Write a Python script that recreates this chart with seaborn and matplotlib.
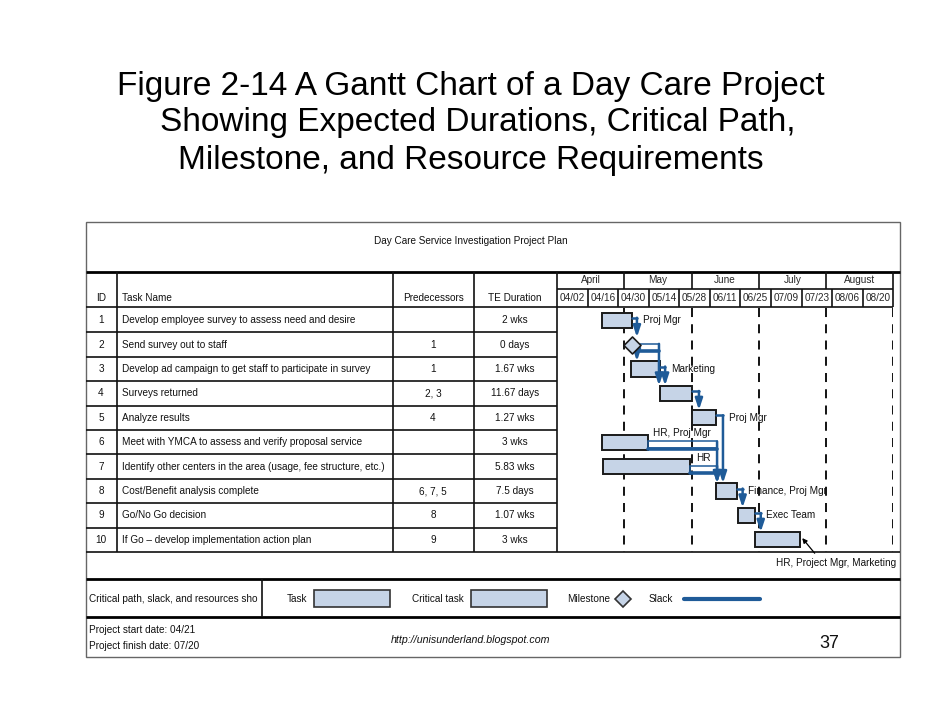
import matplotlib
matplotlib.use("Agg")
import matplotlib.pyplot as plt
import matplotlib.transforms as mtransforms
from matplotlib import font_manager
from matplotlib.patches import Rectangle
import seaborn as sns
import pandas as pd

# ---------------- data ----------------
task_ids = [1, 2, 3, 4, 5, 6, 7, 8, 9, 10]
task_names = [
    "Develop employee survey to assess need and desire",
    "Send survey out to staff",
    "Develop ad campaign to get staff to participate in survey",
    "Surveys returned",
    "Analyze results",
    "Meet with YMCA to assess and verify proposal service",
    "Identify other centers in the area (usage, fee structure, etc.)",
    "Cost/Benefit analysis complete",
    "Go/No Go decision",
    "If Go \u2013 develop implementation action plan",
]
predecessors = ["", "1", "1", "2, 3", "4", "", "", "6, 7, 5", "8", "9"]
te_durations = ["2 wks", "0 days", "1.67 wks", "11.67 days", "1.27 wks",
                "3 wks", "5.83 wks", "7.5 days", "1.07 wks", "3 wks"]
# bar start / length in days after 04/02
bar_start = [20.5, 34.5, 34.0, 47.0, 62.0, 20.5, 21.0, 73.0, 82.7, 90.5]
bar_days = [14.0, 0.0, 13.0, 15.0, 11.0, 21.0, 40.0, 9.5, 8.0, 21.0]
milestone_ids = [2]
months = ["April", "May", "June", "July", "August"]
col_dates = ["04/02", "04/16", "04/30", "05/14", "05/28", "06/11",
             "06/25", "07/09", "07/23", "08/06", "08/20"]
# (from task, to task, day where the link turns down)
links = [(1, 2, 36.6), (2, 3, 36.6), (3, 4, 49.5), (4, 5, 65.0),
         (5, 8, 76.0), (8, 9, 85.0), (9, 10, 93.3)]
# (task with slack, day where slack ends, successor)
slacks = [(2, 46.7, 4), (6, 73.3, 8), (7, 73.3, 8)]
resources = {1: "Proj Mgr", 3: "Marketing", 5: "Proj Mgr", 6: "HR, Proj Mgr",
             7: "HR", 8: "Finance, Proj Mgr", 9: "Exec Team"}
last_resource = "HR, Project Mgr, Marketing"
total_days = 154

df = pd.DataFrame({"id": task_ids, "start": bar_start, "days": bar_days})
df["end"] = df["start"] + df["days"]

# ---------------- style ----------------
sns.set_style("white")
names = {f.name for f in font_manager.fontManager.ttflist}
COND = "Liberation Sans Narrow" if "Liberation Sans Narrow" in names else "Liberation Sans"
TS = 8.7 if COND == "Liberation Sans Narrow" else 7.2
plt.rcParams["font.family"] = ["Liberation Sans", "DejaVu Sans"]

BAR = "#c6d4e7"
BLUE = "#1f5b98"
INK = "#111111"

fig = plt.figure(figsize=(9.42, 7.28), dpi=100)
bg = fig.add_axes([0, 0, 1, 1])
bg.set_xlim(0, 942)
bg.set_ylim(728, 0)
bg.axis("off")

# slide title
bg.text(471, 87, "Figure 2-14 A Gantt Chart of a Day Care Project",
        ha="center", va="center", fontsize=24, color="black")
bg.text(478, 123, "Showing Expected Durations, Critical Path,",
        ha="center", va="center", fontsize=24, color="black")
bg.text(471, 160, "Milestone, and Resource Requirements",
        ha="center", va="center", fontsize=24, color="black")

# gantt axes (rows region)
ax = fig.add_axes([557 / 942, (728 - 552) / 728, 336.3 / 942, 244 / 728])
ax.set_xlim(0, total_days)
ax.set_ylim(10.5, 0.5)
ax.axis("off")

# table frame
bg.add_patch(Rectangle((86, 222), 814, 435, fill=False, ec="#666666", lw=1))
bg.hlines(272, 86, 900, color="black", lw=2)
bg.hlines(307, 86, 893, color=INK, lw=1.2)
bg.hlines(552, 86, 900, color=INK, lw=1.2)
bg.hlines(579, 86, 900, color="black", lw=2)
bg.hlines(617, 86, 900, color="black", lw=2)
bg.vlines([117, 393, 474, 557], 272, 552, color=INK, lw=1.2)
bg.vlines(893, 272, 307, color=INK, lw=1.2)
bg.vlines(262, 579, 617, color=INK, lw=1.2)

# row lines and row texts positioned with the gantt y scale
rowtr = mtransforms.blended_transform_factory(bg.transData, ax.transData)
bg.hlines([i + 0.5 for i in task_ids[:-1]], 86, 557, color=INK, lw=1.2, transform=rowtr)
for i, name, pred, dur in zip(task_ids, task_names, predecessors, te_durations):
    kw = dict(va="center", fontsize=TS, family=COND, color=INK, transform=rowtr)
    bg.text(101, i, str(i), ha="center", **kw)
    bg.text(122, i, name, ha="left", **kw)
    bg.text(433, i, pred, ha="center", **kw)
    bg.text(515, i, dur, ha="center", **kw)

hkw = dict(va="center", fontsize=TS, family=COND, color=INK)
bg.text(471, 241, "Day Care Service Investigation Project Plan", ha="center", **hkw)
bg.text(101, 298, "ID", ha="center", **hkw)
bg.text(122, 298, "Task Name", ha="left", **hkw)
bg.text(433, 298, "Predecessors", ha="center", **hkw)
bg.text(515, 298, "TE Duration", ha="center", **hkw)

# timescale header
xtr = ax.get_xaxis_transform()
m_w = total_days / len(months)
c_w = total_days / len(col_dates)
ax.hlines(1.078, 0, total_days, color=INK, lw=1.2, transform=xtr, clip_on=False)
ax.vlines([m_w * k for k in range(1, len(months))], 1.078, 1.148, color=INK, lw=1.2,
          transform=xtr, clip_on=False)
ax.vlines([c_w * k for k in range(1, len(col_dates))], 1.004, 1.078, color=INK, lw=1.2,
          transform=xtr, clip_on=False)
for k, m in enumerate(months):
    ax.text(m_w * (k + 0.5), 1.113, m, ha="center", va="center", fontsize=TS,
            family=COND, transform=xtr, clip_on=False)
for k, d in enumerate(col_dates):
    ax.text(c_w * (k + 0.5), 1.041, d, ha="center", va="center", fontsize=TS,
            family=COND, transform=xtr, clip_on=False)

# month dashed lines
ax.vlines([m_w * k for k in range(1, len(months) + 1)], 0.5, 10.5, color="black",
          lw=1.3, linestyles=(0, (5, 4)), zorder=1)

# bars
tasks = df[~df["id"].isin(milestone_ids)]
ax.barh(tasks["id"], tasks["days"], left=tasks["start"], height=0.62,
        color=BAR, edgecolor="#1a1a1a", linewidth=1.4, zorder=3)
ms = df[df["id"].isin(milestone_ids)]
sns.scatterplot(x=ms["start"], y=ms["id"], marker="D", s=75, color=BAR,
                edgecolor="#1a1a1a", linewidth=1.2, ax=ax, zorder=6, legend=False)
ax.set_xlim(0, total_days)
ax.set_ylim(10.5, 0.5)
ax.axis("off")

end = dict(zip(df["id"], df["end"]))
aprops = dict(arrowstyle="-|>,head_length=0.6,head_width=0.2", color=BLUE,
              lw=1.8, mutation_scale=11, shrinkA=0, shrinkB=0)

# slack
for t, s_end, succ in slacks:
    ax.add_patch(Rectangle((end[t], t - 0.03), s_end - end[t], 0.28, fill=False,
                           ec=BLUE, lw=1.1, zorder=4))
    ax.plot([end[t], s_end], [t + 0.27, t + 0.27], color=BLUE, lw=2.6, zorder=4)
    ax.annotate("", xy=(s_end, succ - 0.32), xytext=(s_end, t - 0.03),
                arrowprops=aprops, zorder=4)

# links
label_x = {}
for a, b, turn in links:
    ya = a - 0.1 if a not in milestone_ids else a + 0.25
    if a not in milestone_ids:
        ax.plot([end[a], turn], [ya, ya], color=BLUE, lw=1.8, zorder=4)
    yb = b - 0.32 if b not in milestone_ids else b - 0.3
    ax.annotate("", xy=(turn, yb), xytext=(turn, ya), arrowprops=aprops, zorder=4)
    label_x[a] = turn

# resource labels
for t, txt in resources.items():
    x = max(end[t], label_x.get(t, 0)) + 2.6
    y = t if t not in [s[0] for s in slacks] else t - 0.36
    ax.text(x, y, txt, ha="left", va="center", fontsize=TS, family=COND,
            color=INK, zorder=7)
ax.annotate("", xy=(end[10] + 0.8, 9.93), xytext=(end[10] + 6.5, 10.55),
            arrowprops=dict(arrowstyle="-|>", color="black", lw=0.9,
                            mutation_scale=7, shrinkA=0, shrinkB=0),
            annotation_clip=False)
ax.text(total_days + 1.2, 10.97, last_resource, ha="right", va="center",
        fontsize=TS, family=COND, color=INK, clip_on=False)

# legend row
lkw = dict(va="center", fontsize=TS, family=COND, color=INK)
bg.text(89, 599, "Critical path, slack, and resources sho", ha="left", **lkw)
bg.text(287, 599, "Task", ha="left", **lkw)
bg.add_patch(Rectangle((314, 590), 76, 17, fc=BAR, ec="#333333", lw=1.2))
bg.text(412, 599, "Critical task", ha="left", **lkw)
bg.add_patch(Rectangle((471, 590), 76, 17, fc=BAR, ec="#333333", lw=1.2))
bg.text(567, 599, "Milestone", ha="left", **lkw)
bg.plot([623], [599], marker="D", ms=8, mfc=BAR, mec="#333333", mew=1.2)
bg.text(649, 599, "Slack", ha="left", **lkw)
bg.plot([684, 760], [599, 599], color=BLUE, lw=3)

# footer
bg.text(89, 630, "Project start date: 04/21", ha="left", **lkw)
bg.text(89, 646, "Project finish date: 07/20", ha="left", **lkw)
bg.text(471, 640, "http://unisunderland.blogspot.com", ha="center", va="center",
        fontsize=7.7, style="italic", color=INK)
bg.text(829, 643, "37", ha="center", va="center", fontsize=13, color=INK)

fig.savefig("out.png", dpi=100)
